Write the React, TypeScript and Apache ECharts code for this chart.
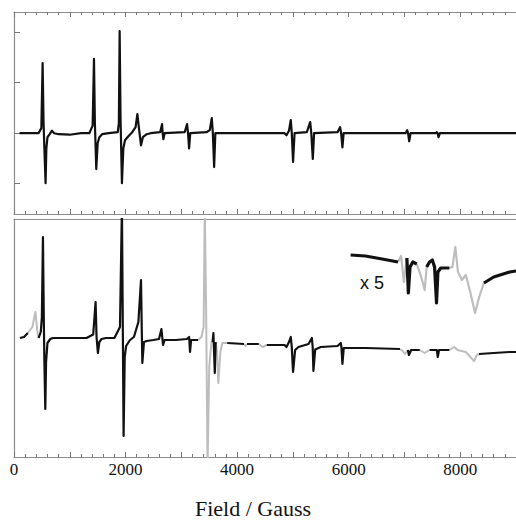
import React, { useEffect, useRef } from "react";
import * as echarts from "echarts";

type P = [number, number] | null;

// Field (Gauss) tick labels
const xLabels = [0, 2000, 4000, 6000, 8000];
const topYTicks = [-1, 0, 1, 2];

// Top spectrum (black)
const topTrace: P[] = [
  [100, 0], [440, 0], [490, 0.1], [513, 1.39], [530, 0.2], [545, -0.3], [566, -0.99], [580, -0.3], [600, -0.08], [640, -0.02], [680, 0.05], [720, 0], [800, -0.02], [1000, -0.03], [1200, 0], [1350, 0],
  [1410, 0.15], [1434, 1.47], [1450, 0.2], [1475, -0.71], [1500, -0.2], [1530, -0.08], [1580, -0.02], [1700, 0], [1860, 0.02],
  [1880, 0.2], [1894, 2.02], [1910, 0.3], [1935, -0.99], [1960, -0.3], [1990, -0.14], [2050, -0.06], [2120, 0.02],
  [2180, 0.12], [2212, 0.38], [2240, 0.1], [2277, -0.24], [2310, -0.08], [2380, -0.02], [2450, 0], [2620, 0.02],
  [2655, 0.18], [2665, 0], [2678, -0.12], [2700, 0], [3060, 0.02], [3103, 0.18], [3120, 0], [3139, -0.3], [3160, 0],
  [3450, 0.02], [3510, 0.06], [3546, 0.3], [3565, 0], [3588, -0.67], [3610, 0], [4850, 0], [4885, -0.04], [4930, 0.05],
  [4962, 0.26], [4980, 0], [5003, -0.57], [5030, 0], [5250, 0.02], [5310, 0.22], [5330, 0], [5357, -0.51], [5380, 0],
  [5800, 0.02], [5846, 0.12], [5865, 0], [5888, -0.28], [5910, 0], [7020, 0], [7050, 0.06], [7065, 0], [7085, -0.16],
  [7110, 0], [7560, 0], [7580, 0.02], [7595, 0], [7611, -0.08], [7635, 0], [9000, 0],
];

// Bottom spectrum, black parts
const bottomBlack: P[] = [
  [106, -0.02], [180, 0], [248, 0.08], null,
  [442, -0.02], [480, 0.1], [500, 0.4], [519, 2.0], [535, 0.3], [545, -0.5], [561, -1.44], [575, -0.5], [600, -0.12], [650, -0.04], [700, -0.02], [1300, -0.02],
  [1420, 0.05], [1463, 0.7], [1480, 0], [1504, -0.32], [1530, -0.1], [1570, -0.04], [1650, -0.02], [1800, -0.02],
  [1900, 0.2], [1935, 2.6], [1950, 0.3], [1965, -1.98], [1985, -0.4], [2010, -0.18], [2080, -0.06], [2150, 0],
  [2230, 0.3], [2277, 1.14], [2290, 0.2], [2301, -0.52], [2330, -0.1], [2380, -0.08], [2500, -0.06], [2600, -0.04],
  [2643, 0.16], [2658, 0], [2672, -0.16], [2700, -0.06], [2900, -0.06], [3100, -0.04], [3140, 0], [3156, -0.3], [3175, -0.06], [3300, -0.06], null,
  [3560, -0.1], [3575, 0.08], [3590, -0.4], [3600, -0.72], [3615, -0.1], null,
  [3823, -0.12], [4124, -0.14], null, [4177, -0.14], [4389, -0.14], null,
  [4531, -0.16], [4850, -0.16], [4885, -0.2], [4930, -0.1], [4962, 0], [4980, -0.2], [5003, -0.7], [5040, -0.26], [5100, -0.2],
  [5280, -0.14], [5340, -0.02], [5355, -0.2], [5368, -0.68], [5400, -0.25], [5500, -0.2], [5800, -0.18],
  [5858, -0.12], [5870, -0.2], [5888, -0.54], [5912, -0.22], [6300, -0.22], [6920, -0.24], null,
  [7062, -0.26], [7080, -0.36], [7120, -0.26], [7274, -0.26], null,
  [7451, -0.26], [7580, -0.26], [7598, -0.4], [7620, -0.26], [7805, -0.26], null,
  [8336, -0.34], [8600, -0.32], [8885, -0.3], [9000, -0.3],
];

// Bottom spectrum, grey parts
const bottomGrey: P[] = [
  [248, 0.08], [330, 0.2], [384, 0.5], [420, 0.1], [442, -0.02], null,
  [3300, -0.06], [3360, 0], [3400, 0.2], [3420, 2.6], [3445, 0.5], [3470, -2.6], [3500, -0.6], [3540, -0.1], [3560, -0.1], null,
  [3615, -0.1], [3640, -0.3], [3664, -0.92], [3700, -0.3], [3735, -0.12], [3823, -0.12], null,
  [4124, -0.14], [4150, -0.18], [4177, -0.14], null,
  [4389, -0.14], [4460, -0.2], [4531, -0.16], null,
  [6920, -0.24], [6970, -0.28], [7009, -0.34], [7062, -0.26], null,
  [7274, -0.26], [7363, -0.32], [7451, -0.26], null,
  [7805, -0.26], [7894, -0.2], [7950, -0.26], [8100, -0.3], [8248, -0.48], [8300, -0.36], [8336, -0.34],
];

// x 5 expansion, black parts
const insetBlack: P[] = [
  [6035, 1.64], [6300, 1.62], [6600, 1.56], [6885, 1.5], null,
  [7044, 1.58], [7070, 0.88], [7100, 1.4], [7150, 1.5], [7221, 1.46], null,
  [7398, 1.4], [7450, 1.5], [7500, 1.54], [7540, 1.4], [7575, 0.68], [7600, 1.3], [7650, 1.38], [7805, 1.38], null,
  [8425, 1.08], [8600, 1.2], [8885, 1.3], [9000, 1.32],
];

// x 5 expansion, grey parts
const insetGrey: P[] = [
  [6885, 1.5], [6940, 1.62], [6990, 1.1], [7044, 1.58], null,
  [7221, 1.46], [7300, 1.2], [7363, 0.94], [7398, 1.4], null,
  [7805, 1.38], [7860, 1.4], [7912, 1.8], [7960, 1.3], [8030, 1.14], [8100, 1.24], [8180, 0.9], [8265, 0.48], [8340, 0.8], [8425, 1.08],
];

const AX = "#8c8c8c";
const TICK = "#777777";
const BLACK = "#111111";
const GREY = "#bdbdbd";

const conv = (d: P[]) => d.map((p) => (p ? p : ["-", "-"]));

export default function App() {
  const ref = useRef<HTMLDivElement>(null);
  useEffect(() => {
    if (!ref.current) return;
    const chart = echarts.init(ref.current, null, { renderer: "svg" });
    const xBase = (gridIndex: number, position: string, ticks: boolean, labels: boolean) => ({
      type: "value",
      gridIndex,
      position,
      min: 0,
      max: 9000,
      interval: 1000,
      axisLine: { show: true, onZero: false, lineStyle: { color: AX, width: 1.2 } },
      axisTick: { show: ticks, inside: true, length: 5, lineStyle: { color: TICK, width: 1 } },
      minorTick: { show: ticks, splitNumber: 5, length: 3, lineStyle: { color: TICK, width: 1 } },
      splitLine: { show: false },
      axisLabel: labels
        ? {
            show: true,
            customValues: xLabels,
            formatter: (v: number) => String(v),
            margin: 4,
            color: BLACK,
            fontFamily: "Liberation Serif",
            fontSize: 17,
          }
        : { show: false },
    });
    const line = (data: P[], xi: number, yi: number, color: string, width: number, z: number) => ({
      type: "line",
      xAxisIndex: xi,
      yAxisIndex: yi,
      data: conv(data),
      showSymbol: false,
      symbol: "none",
      connectNulls: false,
      clip: true,
      z,
      lineStyle: { color, width, join: "round" },
    });
    chart.setOption({
      animation: false,
      backgroundColor: "#ffffff",
      grid: [
        { left: 14, top: 12, width: 508, height: 202 },
        { left: 14, top: 219, width: 508, height: 238 },
      ],
      xAxis: [
        xBase(0, "bottom", true, false),
        xBase(0, "top", true, false),
        xBase(1, "top", false, false),
        xBase(1, "bottom", true, true),
      ],
      yAxis: [
        {
          type: "value",
          gridIndex: 0,
          min: -1.6,
          max: 2.4,
          axisLine: { show: true, onZero: false, lineStyle: { color: AX, width: 1.2 } },
          axisTick: { show: true, inside: true, length: 6, customValues: topYTicks, lineStyle: { color: TICK } },
          axisLabel: { show: false },
          splitLine: { show: false },
        },
        {
          type: "value",
          gridIndex: 1,
          min: -2.4,
          max: 2.36,
          axisLine: { show: true, onZero: false, lineStyle: { color: AX, width: 1.2 } },
          axisTick: { show: false },
          axisLabel: { show: false },
          splitLine: { show: false },
        },
      ],
      series: [
        line(topTrace, 0, 0, BLACK, 2.2, 3),
        line(bottomGrey, 3, 1, GREY, 2, 2),
        line(bottomBlack, 3, 1, BLACK, 2.2, 3),
        line(insetGrey, 3, 1, GREY, 2.2, 2),
        line(insetBlack, 3, 1, BLACK, 3.2, 3),
      ],
      graphic: [
        {
          type: "text",
          x: 360,
          y: 283,
          style: {
            text: "x 5",
            fill: BLACK,
            font: "18px 'Liberation Sans'",
            textAlign: "left",
            textVerticalAlign: "middle",
          },
        },
        {
          type: "text",
          x: 253,
          y: 508,
          style: {
            text: "Field / Gauss",
            fill: BLACK,
            font: "22px 'Liberation Serif'",
            textAlign: "center",
            textVerticalAlign: "middle",
          },
        },
      ],
    });
    return () => chart.dispose();
  }, []);
  return (
    <div
      ref={ref}
      style={{ position: "absolute", left: 0, top: 0, width: 516, height: 521, background: "#fff" }}
    />
  );
}
